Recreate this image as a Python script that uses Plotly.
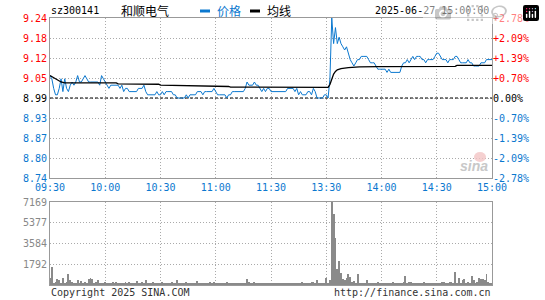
import plotly.graph_objects as go

# ---------------- data ----------------
stock_code = "sz300141"
stock_name = "和顺电气"
timestamp = "2025-06-27 15:00:00"
prev_close = 8.99

time_labels = ["09:30", "10:00", "10:30", "11:00", "11:30", "13:30", "14:00", "14:30", "15:00"]
price_labels = ["8.74", "8.80", "8.87", "8.93", "8.99", "9.05", "9.12", "9.18", "9.24"]
pct_labels = ["-2.78%", "-2.09%", "-1.39%", "-0.70%", "0.00%", "+0.70%", "+1.39%", "+2.09%", "+2.78%"]
vol_ticks = [1792, 3584, 5377, 7169]

price = [
    9.06, 9.05, 9.02, 9.00, 9.00, 9.02, 9.05, 9.01, 9.05, 9.02,
    9.01, 9.03, 9.04, 9.03, 9.04, 9.06, 9.04, 9.04, 9.05, 9.06,
    9.05, 9.04, 9.04, 9.04, 9.04, 9.04, 9.04, 9.03, 9.06, 9.05,
    9.04, 9.03, 9.02, 9.03, 9.03, 9.03, 9.03, 9.03, 9.02, 9.03,
    9.01, 9.02, 9.02, 9.01, 9.01, 9.01, 9.01, 9.01, 9.02, 9.02,
    9.02, 9.03, 9.01, 9.00, 9.00, 9.00, 9.00, 9.00, 9.01, 9.00,
    9.00, 9.01, 9.00, 9.01, 9.01, 9.01, 9.01, 9.00, 9.00, 8.99,
    8.99, 8.99, 8.99, 8.99, 9.00, 8.99, 9.00, 9.00, 9.00, 9.00,
    9.01, 9.01, 9.01, 9.00, 9.01, 9.01, 9.01, 9.01, 9.01, 9.02,
    9.01, 9.00, 9.00, 9.00, 9.00, 9.00, 8.99, 9.00, 9.00, 9.01,
    9.01, 9.01, 9.01, 9.01, 9.01, 9.01, 9.02, 9.04, 9.03, 9.03,
    9.03, 9.04, 9.03, 9.03, 9.02, 9.01, 9.02, 9.01, 9.02, 9.02,
    9.01, 9.01, 9.01, 9.01, 9.01, 9.01, 9.01, 9.01, 9.01, 9.02,
    9.02, 9.02, 9.02, 9.01, 9.02, 9.00, 9.01, 9.00, 9.00, 9.00,
    9.01, 9.01, 9.00, 9.02, 9.01, 8.99, 8.99, 8.99, 8.99, 9.00,
    9.00, 8.99, 9.05, 9.24, 9.16, 9.21, 9.16, 9.18, 9.16, 9.15,
    9.14, 9.15, 9.13, 9.11, 9.10, 9.09, 9.10, 9.11, 9.11, 9.12,
    9.12, 9.12, 9.12, 9.11, 9.10, 9.10, 9.10, 9.09, 9.08, 9.08,
    9.08, 9.08, 9.08, 9.07, 9.08, 9.07, 9.07, 9.07, 9.07, 9.07,
    9.07, 9.09, 9.10, 9.10, 9.11, 9.10, 9.11, 9.12, 9.11, 9.12,
    9.12, 9.12, 9.11, 9.11, 9.10, 9.11, 9.11, 9.11, 9.11, 9.12,
    9.13, 9.13, 9.12, 9.11, 9.11, 9.11, 9.10, 9.11, 9.11, 9.11,
    9.12, 9.12, 9.11, 9.10, 9.10, 9.10, 9.10, 9.11, 9.10, 9.10,
    9.09, 9.09, 9.09, 9.09, 9.10, 9.10, 9.10, 9.11, 9.11, 9.11,
    9.11,
]

avg_idx = [0, 2, 4, 6, 8, 36, 37, 59, 60, 81, 82, 97, 98, 151, 152, 153, 154,
           155, 156, 158, 162, 168, 178, 220, 221, 240]
avg_val = [9.060, 9.053, 9.046, 9.040, 9.037, 9.037, 9.034, 9.033, 9.030, 9.029,
           9.027, 9.026, 9.024, 9.023, 9.032, 9.050, 9.065, 9.073, 9.078, 9.082,
           9.085, 9.087, 9.088, 9.089, 9.092, 9.092]

volume = [
    600, 1520, 200, 285, 490, 430, 150, 575, 200, 300,
    920, 430, 285, 200, 150, 430, 200, 370, 150, 285,
    200, 490, 575, 490, 200, 300, 430, 200, 200, 150,
    285, 120, 200, 150, 280, 200, 250, 150, 200, 180,
    150, 250, 120, 300, 180, 90, 200, 350, 150, 120,
    280, 200, 430, 150, 100, 180, 250, 120, 90, 200,
    150, 300, 120, 200, 90, 150, 250, 100, 180, 430,
    200, 120, 90, 150, 280, 100, 120, 200, 90, 150,
    350, 120, 100, 180, 90, 150, 120, 250, 100, 300,
    150, 90, 120, 200, 100, 90, 300, 150, 120, 100,
    180, 90, 120, 150, 100, 90, 200, 490, 250, 150,
    180, 300, 150, 120, 200, 100, 150, 90, 120, 100,
    150, 90, 120, 100, 90, 150, 120, 100, 90, 200,
    150, 120, 100, 90, 150, 200, 120, 300, 150, 200,
    200, 100, 280, 300, 150, 430, 200, 100, 150, 200,
    575, 200, 430, 7169, 6096, 4095, 1374, 2086, 1005, 490,
    430, 575, 945, 660, 285, 343, 143, 945, 200, 150,
    150, 200, 430, 150, 120, 200, 100, 150, 285, 120,
    100, 150, 200, 120, 90, 150, 230, 100, 120, 150,
    200, 150, 300, 773, 200, 250, 280, 150, 200, 120,
    150, 120, 200, 250, 100, 150, 200, 120, 100, 150,
    200, 150, 120, 250, 280, 150, 200, 230, 280, 150,
    1117, 200, 630, 150, 430, 490, 200, 285, 150, 773,
    430, 200, 285, 575, 490, 490, 430, 945, 300, 200,
    150,
]

# ---------------- style ----------------
W, H = 545, 300
PL, PR, PT, PB = 50, 492, 18, 285          # plot area in pixels
PRICE_BOTTOM, VOL_TOP = 178, 202
BLUE = "#0b78cf"
RED = "#ff0000"
GRID = "#aaaaaa"
BORDER = "#999999"
MONO = "DejaVu Sans Mono"
CJK = "Noto Sans CJK SC"

n = len(price)
idx = list(range(n))
last = n - 1
half_span = 0.25
p_lo, p_hi = prev_close - half_span, prev_close + half_span
n_ticks = len(price_labels)
p_tickvals = [p_lo + i * (p_hi - p_lo) / (n_ticks - 1) for i in range(n_ticks)]
pct_tickvals = [(v - prev_close) / prev_close * 100 for v in p_tickvals]
pct_range = [(p_lo - prev_close) / prev_close * 100, (p_hi - prev_close) / prev_close * 100]
t_tickvals = [i * last / (len(time_labels) - 1) for i in range(len(time_labels))]
vol_max = vol_ticks[-1]


def colored(text, v, ref):
    c = RED if v > ref + 1e-9 else (BLUE if v < ref - 1e-9 else "#000000")
    return f"<span style='color:{c}'>{text}</span>"


price_ticktext = [colored(t, v, prev_close) for t, v in zip(price_labels, p_tickvals)]
pct_ticktext = [colored(t, v, 0) for t, v in zip(pct_labels, pct_tickvals)]


def xp(px):
    return (px - PL) / (PR - PL)


def yp(py):
    return (PB - py) / (PB - PT)


fig = go.Figure()
fig.add_trace(go.Bar(x=idx, y=volume, xaxis="x", yaxis="y", width=0.5,
                     marker=dict(color="#8a8a8a", line=dict(width=0)), hoverinfo="skip"))
fig.add_trace(go.Scatter(x=idx, y=price, xaxis="x2", yaxis="y2", mode="lines",
                         line=dict(color=BLUE, width=1), hoverinfo="skip"))
fig.add_trace(go.Scatter(x=avg_idx, y=avg_val, xaxis="x2", yaxis="y2", mode="lines",
                         line=dict(color="#000000", width=1.3), hoverinfo="skip"))
fig.add_trace(go.Scatter(x=[0], y=[0], xaxis="x2", yaxis="y3", mode="none",
                         hoverinfo="skip"))

common_x = dict(range=[0, last], tickvals=t_tickvals, showgrid=True, gridcolor=GRID,
                griddash="1px,2px", gridwidth=1, showline=True, mirror=True,
                linecolor=BORDER, linewidth=1, zeroline=False, ticks="",
                automargin=False, fixedrange=True)
common_y = dict(showgrid=True, gridcolor=GRID, griddash="1px,2px", gridwidth=1,
                showline=True, mirror=True, linecolor=BORDER, linewidth=1,
                zeroline=False, ticks="", automargin=False, fixedrange=True,
                ticklabelstandoff=0)

fig.update_layout(
    width=W, height=H, template="none", showlegend=False,
    paper_bgcolor="white", plot_bgcolor="white",
    margin=dict(l=PL, r=W - PR, t=PT, b=H - PB, pad=0),
    bargap=0,
    xaxis=dict(domain=[0, 1], anchor="y", showticklabels=False, **common_x),
    yaxis=dict(domain=[0, yp(VOL_TOP)], anchor="x", range=[0, vol_max],
               tickvals=vol_ticks, ticktext=[str(v) for v in vol_ticks],
               tickfont=dict(family=MONO, size=10, color="#888888"), **common_y),
    xaxis2=dict(domain=[0, 1], anchor="y2", ticktext=time_labels,
                tickfont=dict(family=MONO, size=10, color=BLUE), **common_x),
    yaxis2=dict(domain=[yp(PRICE_BOTTOM), 1], anchor="x2", range=[p_lo, p_hi],
                tickvals=p_tickvals, ticktext=price_ticktext,
                tickfont=dict(family=MONO, size=10), **common_y),
    yaxis3=dict(overlaying="y2", anchor="x2", side="right", range=pct_range,
                tickvals=pct_tickvals, ticktext=pct_ticktext,
                tickfont=dict(family=MONO, size=10), showgrid=False, showline=False,
                zeroline=False, ticks="", automargin=False, fixedrange=True),
)

# previous close dashed line
fig.add_shape(type="line", xref="x2", yref="y2", x0=0, x1=last, y0=prev_close, y1=prev_close,
              line=dict(color="#000000", width=1, dash="3px,2px"), layer="between")

# header
ann = [
    dict(text=stock_code, x=xp(49), y=yp(11), xanchor="left", font=dict(family=MONO, size=10, color="#000")),
    dict(text=stock_name, x=xp(119), y=yp(11), xanchor="left", font=dict(family=CJK, size=12, color="#000")),
    dict(text="价格", x=xp(215), y=yp(11), xanchor="left", font=dict(family=CJK, size=12, color=BLUE)),
    dict(text="均线", x=xp(265), y=yp(11), xanchor="left", font=dict(family=CJK, size=12, color="#000")),
    dict(text=timestamp, x=xp(491), y=yp(10.5), xanchor="right", font=dict(family=MONO, size=10, color="#000")),
    dict(text="Copyright 2025 SINA.COM", x=xp(49), y=yp(292), xanchor="left",
         font=dict(family=MONO, size=10, color="#333")),
    dict(text="http://finance.sina.com.cn", x=xp(493), y=yp(292), xanchor="right",
         font=dict(family=MONO, size=10, color="#333")),
    dict(text="<b><i>sina</i></b>", x=xp(474), y=yp(166), xanchor="center",
         font=dict(family="Liberation Sans", size=14, color="#c8c8c8")),
]
for a in ann:
    a.update(xref="paper", yref="paper", yanchor="middle", showarrow=False)
    fig.add_annotation(**a)

# legend keys
fig.add_shape(type="rect", xref="paper", yref="paper", x0=xp(200), x1=xp(210), y0=yp(12.5), y1=yp(9.5),
              fillcolor=BLUE, line=dict(width=0))
fig.add_shape(type="rect", xref="paper", yref="paper", x0=xp(250), x1=xp(260), y0=yp(12.5), y1=yp(9.5),
              fillcolor="#000", line=dict(width=0))
# watermark eye
fig.add_shape(type="circle", xref="paper", yref="paper", x0=xp(474), x1=xp(486), y0=yp(162), y1=yp(152),
              fillcolor="#f2c4c4", line=dict(width=0), opacity=0.8)

fig.write_html("out.html",
               post_script="document.body.style.margin='0';document.body.style.overflow='hidden';")
